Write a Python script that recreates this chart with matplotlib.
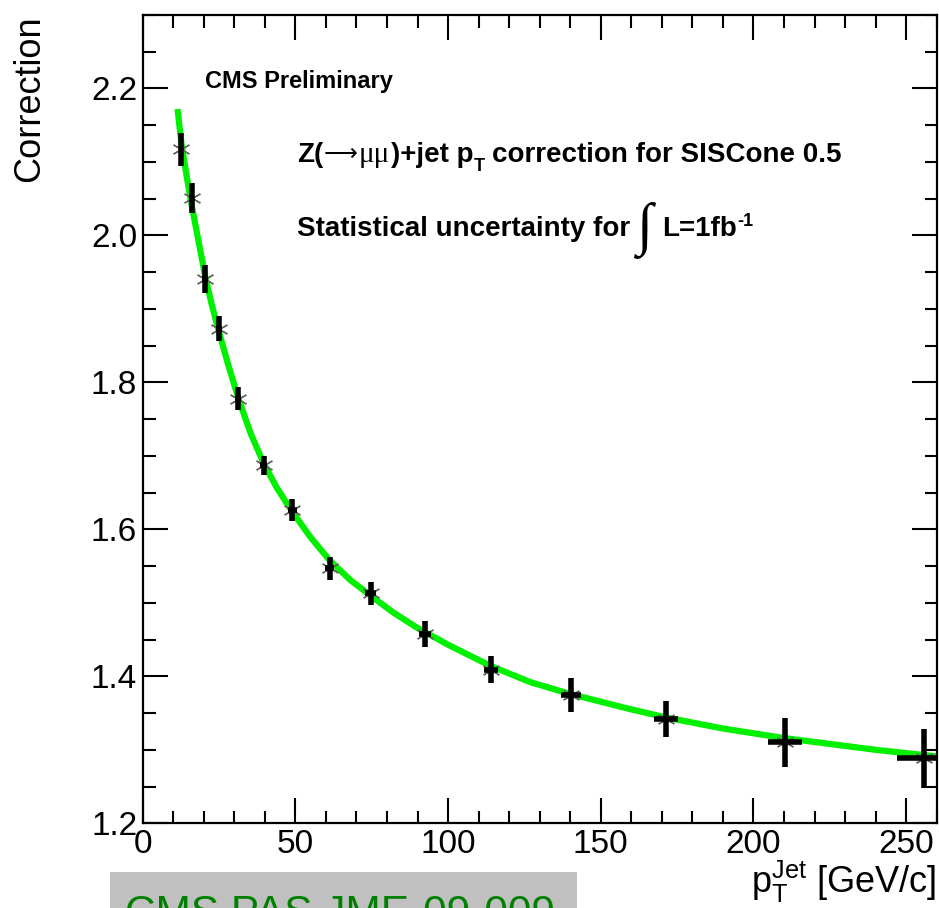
import matplotlib
matplotlib.use("Agg")
import matplotlib.pyplot as plt
from matplotlib.ticker import MultipleLocator, FormatStrFormatter
from matplotlib.patches import Rectangle

# measured points (pT jet, correction) with errors
pt = [12.7, 16.0, 20.4, 24.9, 31.3, 39.6, 49.0, 61.2, 74.6, 92.4, 114.1, 140.2, 171.4, 210.4, 256.0]
corr = [2.117, 2.051, 1.941, 1.873, 1.778, 1.687, 1.627, 1.547, 1.513, 1.458, 1.409, 1.375, 1.342, 1.310, 1.2885]
corr_err = [0.022, 0.020, 0.019, 0.017, 0.016, 0.0135, 0.015, 0.016, 0.016, 0.0175, 0.018, 0.023, 0.024, 0.033, 0.040]
pt_err = [0.6, 0.8, 0.9, 1.0, 1.0, 1.2, 1.4, 1.6, 1.8, 2.0, 2.2, 3.2, 4.0, 5.5, 9.0]

# fit curve
fit_pt = [11.4, 12.7, 14.3, 16.0, 18.2, 20.4, 22.6, 24.9, 28.0, 31.3, 35.3, 39.6, 44.0, 49.0,
          55.0, 61.2, 68.0, 74.6, 82.0, 89.5, 100.0, 114.0, 127.0, 140.0, 149.5, 160.0,
          171.4, 190.0, 210.0, 221.3, 240.0, 260.0]
fit_corr = [2.172, 2.125, 2.083, 2.042, 1.994, 1.946, 1.906, 1.870, 1.824, 1.779, 1.731, 1.690, 1.656, 1.624,
            1.589, 1.558, 1.531, 1.510, 1.487, 1.467, 1.443, 1.414, 1.392, 1.376, 1.366, 1.355,
            1.344, 1.329, 1.316, 1.310, 1.300, 1.291]

plt.rcParams["font.family"] = ["Liberation Sans", "DejaVu Sans"]
plt.rcParams["mathtext.fontset"] = "custom"
plt.rcParams["mathtext.rm"] = "Liberation Sans"
plt.rcParams["mathtext.bf"] = "Liberation Sans:bold"
plt.rcParams["mathtext.it"] = "Liberation Sans:italic"

W, H = 939, 908


def fx(px):
    return px / W


def fy(py):
    return 1 - py / H


fig = plt.figure(figsize=(W / 100, H / 100), dpi=100)
ax = fig.add_axes([fx(142.7), fy(823.3), (936.7 - 142.7) / W, (823.3 - 15) / H])

ax.plot(fit_pt, fit_corr, color="#00f000", lw=4.5, zorder=2, solid_capstyle="butt")
ax.plot(pt, corr, linestyle="none", marker=(6, 2, 0), ms=13, mec="#666666", mew=1.0, zorder=3)
ax.errorbar(pt, corr, xerr=pt_err, yerr=corr_err, fmt="none", ecolor="black",
            elinewidth=4, capsize=0, zorder=4)

ax.set_xlim(0, 260)
ax.set_ylim(1.2, 2.3)
ax.xaxis.set_major_locator(MultipleLocator(50))
ax.xaxis.set_minor_locator(MultipleLocator(10))
ax.yaxis.set_major_locator(MultipleLocator(0.2))
ax.yaxis.set_minor_locator(MultipleLocator(0.05))
ax.yaxis.set_major_formatter(FormatStrFormatter("%.1f"))
ax.tick_params(which="both", direction="in", top=True, right=True, width=1.5, labelsize=24)
ax.tick_params(which="major", length=18, pad=4)
ax.tick_params(which="minor", length=9)
for s in ax.spines.values():
    s.set_linewidth(1.6)

fig.text(fx(30), fy(15), "Correction", rotation=90, ha="center", va="top", fontsize=26)
fig.text(fx(936), fy(893), r"$\mathrm{p}_{\mathrm{T}}^{\mathrm{Jet}}$ [GeV/c]",
         ha="right", va="baseline", fontsize=26)

fig.text(fx(205), fy(88.3), "CMS Preliminary", fontsize=17, fontweight="bold", va="baseline")

renderer = fig.canvas.get_renderer()


def chain(x0, base, pieces):
    # pieces: (text, gap_before_px, dy_px, kwargs) written one after another
    x = x0
    for txt, gap, dy, kw in pieces:
        x += gap
        t = fig.text(fx(x), fy(base + dy), txt, va="baseline", **kw)
        x = t.get_window_extent(renderer).x1


bold = dict(fontsize=20, fontweight="bold")
chain(296.7, 161.7, [
    ("Z(", 0, 0, bold),
    ("⟶", 1, -1, dict(fontsize=17, family="DejaVu Sans")),
    ("μμ", 1, 0, dict(fontsize=21, family="Liberation Serif")),
    (")+jet p", 1, 0, bold),
    ("T", 0, 9, dict(fontsize=13, fontweight="bold")),
    ("correction for SISCone 0.5", 7, 0, bold),
])
chain(296.7, 236.5, [
    ("Statistical uncertainty for", 0, 0, bold),
    ("∫", 6, 6, dict(fontsize=42, family="Liberation Serif")),
    ("L=1fb", 10, 0, bold),
    ("-1", 1, -11, dict(fontsize=13, fontweight="bold")),
])

# grey stamp at the bottom, cut by the page edge
fig.patches.append(Rectangle((fx(110), 0), (577 - 110) / W, (908 - 872) / H,
                             transform=fig.transFigure, facecolor="#c0c0c0", edgecolor="none"))
fig.text(fx(125), fy(925), "CMS PAS JME-09-009", fontsize=30.5, color="#008000", va="baseline")

fig.savefig("out.png", dpi=100)
